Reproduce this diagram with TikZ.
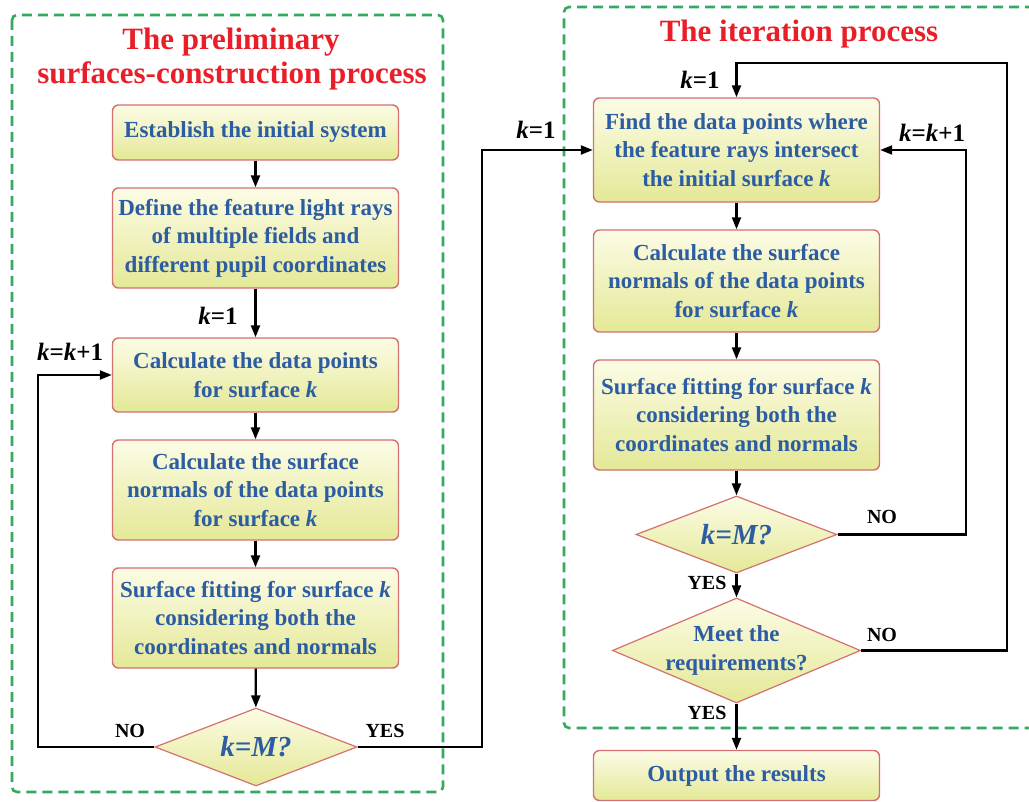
\documentclass[tikz,border=0pt]{standalone}
\usepackage{fontspec}
\setmainfont{Liberation Serif}
\usetikzlibrary{arrows.meta,shapes.geometric}
\definecolor{txtblue}{RGB}{44,92,162}
\definecolor{ttlred}{RGB}{232,30,40}
\definecolor{dashgreen}{RGB}{52,170,92}
\definecolor{boxred}{RGB}{212,112,112}
\definecolor{filltop}{RGB}{252,252,230}
\definecolor{fillbot}{RGB}{228,232,150}
\newcommand\bxfont{\fontsize{23}{28.5}\selectfont\bfseries}
\newcommand\ttlfont{\fontsize{31}{34}\selectfont\bfseries}
\newcommand\lblfont{\fontsize{25}{28}\selectfont\bfseries}
\newcommand\ynfont{\fontsize{20}{22}\selectfont\bfseries}
\newcommand\kmfont{\fontsize{29}{32}\selectfont\bfseries\itshape}
\begin{document}
\begin{tikzpicture}[x=1pt,y=-1pt,
  procbox/.style={draw=boxred, line width=1.4pt, rounded corners=6pt,
    top color=filltop, bottom color=fillbot, minimum width=286pt,
    align=center, text=txtblue, font=\bxfont, inner sep=0pt},
  decbox/.style={diamond, draw=boxred, line width=1.2pt,
    top color=filltop, bottom color=fillbot, inner sep=0pt},
  dtext/.style={align=center, text=txtblue, font=\bxfont, inner sep=0pt},
  ttl/.style={text=ttlred, font=\ttlfont, inner sep=0pt},
  lbl/.style={font=\lblfont, text=black, inner sep=0pt},
  yn/.style={font=\ynfont, text=black, inner sep=0pt},
  arr/.style={-{Triangle[length=12pt,width=9pt]}, line width=2.2pt},
  ln/.style={line width=2.2pt},
  grp/.style={draw=dashgreen, line width=2.6pt, dash pattern=on 10pt off 6pt}
]
\useasboundingbox (0,0) rectangle (1029,802);

% group frames
\draw[grp, rounded corners=5pt] (12,15) rectangle (443,792);
\draw[grp, rounded corners=5pt] (1035,7) -- (564,7) -- (564,728) -- (1035,728);

% titles
\node[ttl] (t1) at (231,42) {The preliminary};
\node[ttl] (t2) at (232,76) {surfaces-construction process};
\node[ttl] (t3) at (799,34) {The iteration process};

% left column
\node[procbox, minimum height=55pt] (b1) at (255.5,132.5) {Establish the initial system};
\node[procbox, minimum height=100pt] (b2) at (255.5,238) {Define the feature light rays\\of multiple fields and\\different pupil coordinates};
\node[procbox, minimum height=74pt] (b3) at (255.5,375) {Calculate the data points\\for surface \textit{k}};
\node[procbox, minimum height=100pt] (b4) at (255.5,490) {Calculate the surface\\normals of the data points\\for surface \textit{k}};
\node[procbox, minimum height=100pt] (b5) at (255.5,618) {Surface fitting for surface \textit{k}\\considering both the\\coordinates and normals};
\node[decbox, minimum width=202pt, minimum height=78pt] (d1) at (256,747) {};
\node[dtext, font=\kmfont] (d1t) at (d1.center) {k=M?};

% right column
\node[procbox, minimum height=104pt] (r1) at (736.5,150) {Find the data points where\\the feature rays intersect\\the initial surface \textit{k}};
\node[procbox, minimum height=102pt] (r2) at (736.5,281) {Calculate the surface\\normals of the data points\\for surface \textit{k}};
\node[procbox, minimum height=110pt] (r3) at (736.5,415) {Surface fitting for surface \textit{k}\\considering both the\\coordinates and normals};
\node[decbox, minimum width=201pt, minimum height=77pt] (d2) at (736.5,534.5) {};
\node[dtext, font=\kmfont] (d2t) at (d2.center) {k=M?};
\node[decbox, minimum width=248pt, minimum height=105pt] (d3) at (736.5,650.5) {};
\node[dtext] (d3t) at (d3.center) {Meet the\\requirements?};
\node[procbox, minimum height=50pt] (out) at (736.5,775.5) {Output the results};

% loop corner points
\coordinate (cl) at (38,747);
\coordinate (cm) at (482,747);
\coordinate (cr1) at (966,534.5);
\coordinate (cr2a) at (1007,650.5);
\coordinate (cr2b) at (1007,63);

% left connectors
\draw[arr] (b1) -- (b2);
\draw[arr] (b2) -- (b3);
\draw[arr] (b3) -- (b4);
\draw[arr] (b4) -- (b5);
\draw[arr] (b5) -- (d1);
\draw[arr] (d1.west) -- (cl) |- (b3.west);
\draw[arr] (d1.east) -- (cm) |- (r1.west);

% right connectors
\draw[arr] (r1) -- (r2);
\draw[arr] (r2) -- (r3);
\draw[arr] (r3) -- (d2);
\draw[arr] (d2) -- (d3);
\draw[arr] (d3) -- (out);
\draw[arr] (d2.east) -- (cr1) |- (r1.east);
\draw[arr] (d3.east) -- (cr2a) -- (cr2b) -| (r1.north);

% labels
\node[lbl] (lk1) at (218,316) {\textit{k}=1};
\node[lbl] (lkk1) at (70,352) {\textit{k}=\textit{k}+1};
\node[yn] (lno1) at (130,731) {NO};
\node[yn] (lyes1) at (385,731) {YES};
\node[lbl] (lk2) at (536,130) {\textit{k}=1};
\node[lbl] (lk3) at (700,80) {\textit{k}=1};
\node[lbl] (lkk2) at (932,133) {\textit{k}=\textit{k}+1};
\node[yn] (lno2) at (882,517) {NO};
\node[yn] (lno3) at (882,635) {NO};
\node[yn] (lyes2) at (707,583) {YES};
\node[yn] (lyes3) at (707,713) {YES};
\end{tikzpicture}
\end{document}
